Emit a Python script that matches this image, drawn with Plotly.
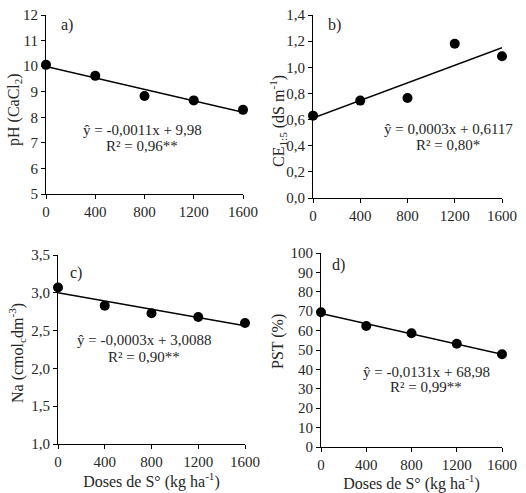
import numpy as np
import plotly.graph_objects as go

doses = [0, 400, 800, 1200, 1600]
ph = [10.05, 9.62, 8.83, 8.66, 8.29]
ce = [0.63, 0.745, 0.765, 1.18, 1.085]
na = [3.07, 2.83, 2.73, 2.68, 2.60]
pst = [69.5, 62.4, 58.6, 53.2, 47.8]

W, H = 526, 493
FONT = "Liberation Serif, Times New Roman, serif"
TXT = "#262626"

panels = [
    dict(y=ph, rng=[5, 12], dt=1, fmt="d", box=(46, 243, 15, 194),
         ytitle="pH (CaCl<sub>2</sub>)", xtitle=None, label="a)", lab=(59, 25),
         eq=["ŷ = -0,0011x + 9,98", "R² = 0,96**"], eqpos=(142, 130, 146), yt=(15, 110)),
    dict(y=ce, rng=[0, 1.4], dt=0.2, fmt=".1f", box=(313, 502, 15, 198),
         ytitle="CE<sub>1:5</sub> (dS m<sup>-1</sup>)", xtitle=None, label="b)", lab=(326, 25),
         eq=["ŷ = 0,0003x + 0,6117", "R² = 0,80*"], eqpos=(448, 129, 145), yt=(278, 121)),
    dict(y=na, rng=[1, 3.5], dt=0.5, fmt=".1f", box=(58, 245, 255, 444),
         ytitle="Na (cmol<sub>c</sub>dm<sup>-3</sup>)", xtitle="Doses de S° (kg ha<sup>-1</sup>)",
         label="c)", lab=(68, 273), eq=["ŷ = -0,0003x + 3,0088", "R² = 0,90**"],
         eqpos=(144, 340, 357), yt=(17, 353)),
    dict(y=pst, rng=[0, 100], dt=10, fmt="d", box=(321, 502, 253, 447),
         ytitle="PST (%)", xtitle="Doses de S° (kg ha<sup>-1</sup>)", label="d)", lab=(330, 265),
         eq=["ŷ = -0,0131x + 68,98", "R² = 0,99**"], eqpos=(426, 372, 387), yt=(278, 342)),
]

fig = go.Figure()
annotations = []
xs = np.array(doses, dtype=float)
for i, p in enumerate(panels):
    n = "" if i == 0 else str(i + 1)
    x0, x1, y0, y1 = p["box"]
    xa = "x" + n
    ya = "y" + n
    # trend line (least squares fit, as the Excel trendline)
    coef = np.polyfit(xs, np.array(p["y"], dtype=float), 1)
    fx = np.array([0, 1600.0])
    fig.add_trace(go.Scatter(x=fx, y=np.polyval(coef, fx), mode="lines",
                             line=dict(color="black", width=1.5), xaxis=xa, yaxis=ya,
                             showlegend=False, hoverinfo="skip", cliponaxis=False))
    fig.add_trace(go.Scatter(x=doses, y=p["y"], mode="markers",
                             marker=dict(color="black", size=10), xaxis=xa, yaxis=ya,
                             showlegend=False, cliponaxis=False))
    xkey = "xaxis" + n
    ykey = "yaxis" + n
    xd = dict(domain=[x0 / W, x1 / W], range=[0, 1600], tickvals=doses,
              showgrid=False, zeroline=False, showline=True, linecolor="black",
              linewidth=1.2, ticks="outside", ticklen=4, tickcolor="black",
              anchor=ya, tickfont=dict(family=FONT, size=15, color=TXT))
    if p["xtitle"]:
        xd["title"] = dict(text=p["xtitle"], font=dict(family=FONT, size=16, color=TXT), standoff=3)
    fig.layout[xkey] = xd
    fig.layout[ykey] = dict(domain=[1 - y1 / H, 1 - y0 / H], range=p["rng"], dtick=p["dt"],
                            tick0=p["rng"][0], tickformat=p["fmt"],
                            showgrid=False, zeroline=False, showline=True, linecolor="black",
                            linewidth=1.2, ticks="outside", ticklen=4, tickcolor="black",
                            anchor=xa, tickfont=dict(family=FONT, size=15, color=TXT))
    annotations.append(dict(text=p["ytitle"], xref="paper", yref="paper",
                            x=p["yt"][0] / W, y=1 - p["yt"][1] / H, textangle=-90,
                            showarrow=False, xanchor="center", yanchor="middle",
                            font=dict(family=FONT, size=16, color=TXT)))
    annotations.append(dict(text=p["label"], xref="paper", yref="paper",
                            x=p["lab"][0] / W, y=1 - p["lab"][1] / H, showarrow=False,
                            xanchor="left", yanchor="middle",
                            font=dict(family=FONT, size=16, color=TXT)))
    ex, ey1, ey2 = p["eqpos"]
    for t, yy in zip(p["eq"], [ey1, ey2]):
        annotations.append(dict(text=t, xref="paper", yref="paper", x=ex / W, y=1 - yy / H,
                                showarrow=False, xanchor="center", yanchor="middle",
                                font=dict(family=FONT, size=15, color=TXT)))

fig.update_layout(width=W, height=H, margin=dict(l=0, r=0, t=0, b=0, autoexpand=False),
                  plot_bgcolor="white", paper_bgcolor="white", separators=",.",
                  annotations=annotations, showlegend=False)
fig.write_html("out.html", config={"displayModeBar": False},
               post_script="document.body.style.margin='0';document.body.style.padding='0';document.body.style.overflow='hidden';")
